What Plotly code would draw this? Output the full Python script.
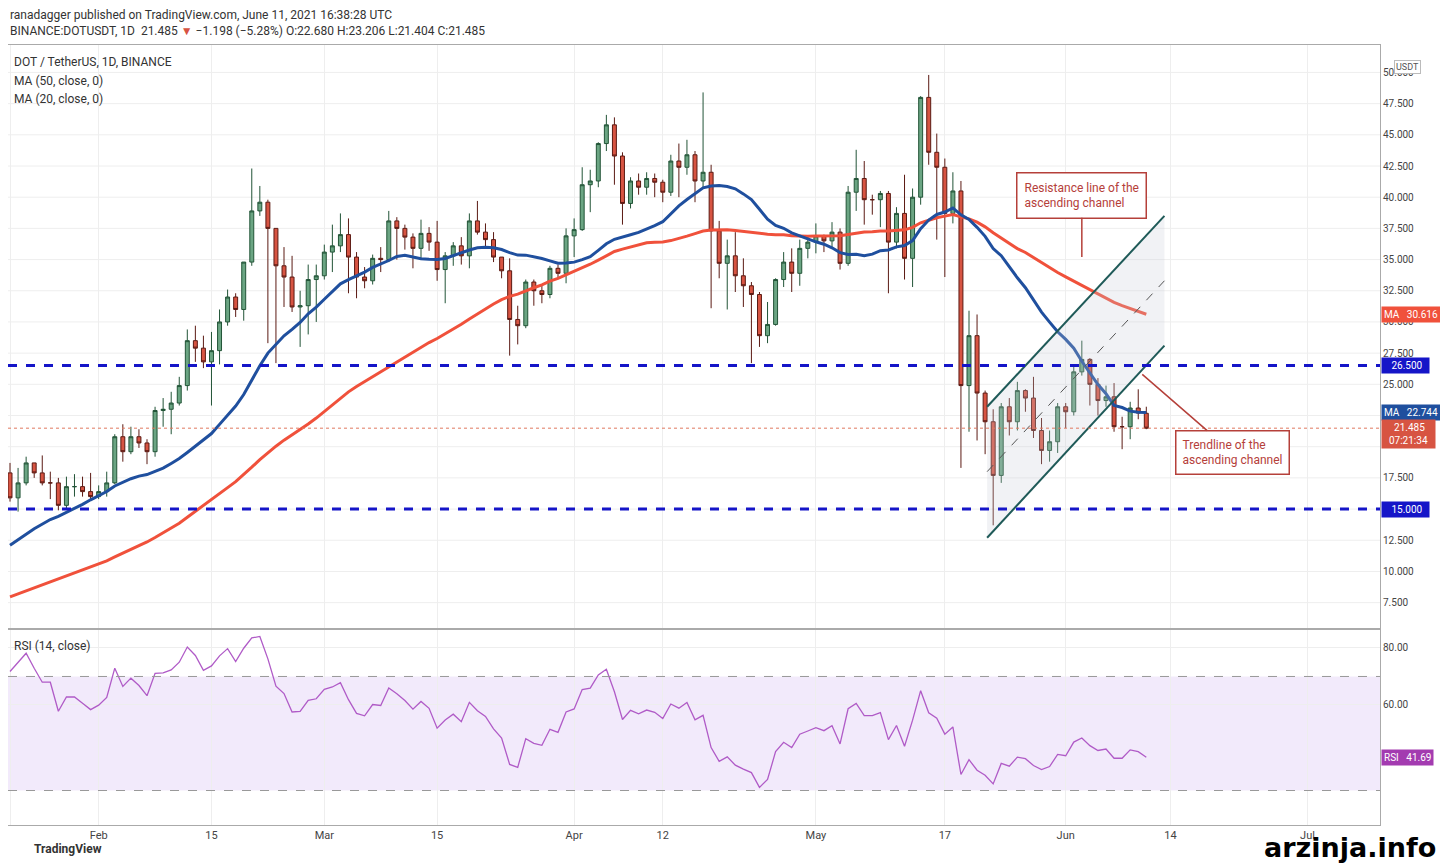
import plotly.graph_objects as go
import pandas as pd
import numpy as np

# ---------------- data ----------------
prior_closes = [5.0,5.0,5.1,5.0,4.8,4.8,4.6,4.5,4.6,4.8,4.9,4.9,5.0,5.2,5.1,5.0,5.0,5.1,4.8,4.7,
                4.6,4.5,4.5,4.8,5.0,5.4,6.2,6.8,7.4,
                8.6,9.0,9.3,9.1,9.4,10.0,10.1,10.6,10.3,9.9,8.7,9.5,10.8,11.8,13.5,15.3,16.2,17.0,17.8,17.9]

closes = [15.9,17.1,18.7,17.9,17.1,17.1,15.3,16.8,16.8,16.4,16.0,
 16.4,17.1,20.8,19.6,20.8,20.3,19.6,22.9,23.0,23.5,24.9,28.5,27.9,26.8,27.7,30.0,32.0,31.0,34.8,38.9,39.6,37.5,34.5,33.6,31.2,31.3,33.4,33.7,
 35.6,36.1,37.0,35.2,33.6,33.3,35.1,35.0,38.1,37.5,36.8,35.9,37.1,36.4,34.2,35.3,36.1,35.3,38.1,37.2,36.6,35.2,34.1,30.2,29.7,33.2,32.5,32.2,34.3,33.9,36.9,
 37.4,41.0,41.3,44.3,45.8,43.3,39.5,41.3,40.8,41.5,41.2,40.4,42.9,42.4,43.4,41.3,42.0,37.3,34.7,35.3,33.7,32.9,32.2,28.9,29.8,33.4,34.8,33.9,35.9,36.4,
 36.9,36.5,37.2,34.7,40.4,41.5,39.8,39.8,40.3,36.4,38.7,35.1,40.0,48.0,43.6,42.4,38.7,40.5,24.9,28.9,24.3,22.0,17.7,23.2,22.0,24.5,23.9,21.3,19.7,20.4,23.2,
 22.8,26.0,27.0,25.0,23.7,24.0,21.6,21.6,23.1,22.7,21.485]

highs = [18.7,18.3,19.2,18.7,19.3,18.0,17.5,17.6,17.8,17.6,17.9,
 16.9,18.0,21.0,21.8,21.6,21.4,20.6,23.2,23.9,24.4,25.6,29.4,29.7,28.9,29.2,31.0,32.6,32.3,34.8,42.3,40.9,39.8,37.5,36.0,35.3,32.5,34.6,34.6,
 36.2,37.8,38.7,38.3,35.6,34.4,35.4,36.0,38.9,38.4,37.8,37.1,38.2,37.6,38.1,35.6,36.4,36.8,38.7,39.7,37.9,37.2,35.2,35.1,31.3,33.4,33.4,32.9,34.5,34.6,37.5,
 38.3,42.4,42.2,44.4,46.6,46.4,43.6,41.6,41.9,42.0,41.9,41.4,43.4,44.3,44.6,43.7,48.4,42.6,38.1,36.6,37.2,35.1,33.2,32.4,31.6,33.5,35.6,35.9,36.6,36.9,
 37.9,37.0,38.0,37.5,40.9,43.8,42.9,40.2,40.5,40.5,39.2,41.8,40.7,48.1,49.8,45.1,43.1,42.0,41.3,30.9,30.6,24.5,23.0,23.5,23.9,25.2,24.6,25.6,22.3,21.3,23.5,
 23.5,26.4,28.5,27.1,25.5,24.9,25.1,22.4,23.6,24.6,23.206]

lows = [15.6,14.8,16.9,17.5,16.9,15.8,14.9,15.0,16.0,16.0,15.7,
 15.8,16.0,17.0,18.8,19.4,19.9,18.6,19.2,21.6,21.0,23.3,24.5,26.8,26.3,23.3,26.6,29.7,30.4,30.1,34.5,38.5,28.3,26.7,31.2,30.8,28.0,29.0,30.0,
 33.4,34.0,35.6,32.3,31.9,32.7,33.0,34.0,34.8,35.0,35.8,34.3,35.0,35.7,33.3,31.5,34.5,34.6,34.3,37.0,35.9,34.8,33.5,27.3,28.2,29.5,31.3,31.5,31.9,33.5,33.1,
 35.2,37.3,38.8,40.8,43.7,41.0,37.8,39.1,40.2,40.2,40.0,39.6,40.1,40.0,41.8,39.6,40.7,31.1,33.5,31.0,32.4,31.2,26.7,28.0,28.3,29.7,32.8,32.4,32.9,35.1,
 35.5,35.6,35.9,34.2,34.5,38.9,37.8,38.6,37.6,32.3,35.9,33.4,32.8,39.4,42.6,36.6,33.6,37.9,18.3,21.2,20.5,19.4,13.7,17.1,20.9,21.3,22.8,20.7,18.6,18.8,19.5,
 21.5,22.5,25.7,23.3,22.5,23.2,21.2,19.8,20.6,22.2,21.404]

first_open = 17.9
last_open = 22.680

dates = pd.date_range("2021-01-21", periods=len(closes), freq="D")
opens = [first_open] + closes[:-1]
opens[-1] = last_open

tick_dates = ["2021-01-21","2021-02-01","2021-02-15","2021-03-01","2021-03-15","2021-04-01",
              "2021-04-12","2021-05-01","2021-05-17","2021-06-01","2021-06-14","2021-07-01"]
tick_text = ["21","Feb","15","Mar","15","Apr","12","May","17","Jun","14","Jul"]
price_ticks = [7.5, 10.0, 12.5, 17.5, 25.0, 27.5, 30.0, 32.5, 35.0, 37.5, 40.0, 42.5, 45.0, 47.5, 50.0]
price_grid = [7.5, 10.0, 12.5, 15.0, 17.5, 20.0, 22.5, 25.0, 27.5, 30.0, 32.5, 35.0, 37.5, 40.0, 42.5, 45.0, 47.5, 50.0]

support_levels = [26.5, 15.0]
channel_dates = ["2021-05-22 06:00", "2021-06-13 06:00"]
channel_lower = [12.7, 28.1]
channel_upper = [23.2, 38.5]
channel_mid = [18.0, 33.3]

# ---------------- indicators ----------------
allc = pd.Series(prior_closes + closes)
n0 = len(prior_closes)
ma50 = allc.rolling(50, min_periods=1).mean().iloc[n0:].values
ma20 = allc.rolling(20, min_periods=1).mean().iloc[n0:].values
d = allc.diff()
gain = d.clip(lower=0).ewm(alpha=1/14, adjust=False).mean()
loss = (-d.clip(upper=0)).ewm(alpha=1/14, adjust=False).mean()
rsi = (100 - 100/(1+gain/loss)).iloc[n0:].values

# ---------------- figure ----------------
fig = go.Figure()
fig.add_trace(go.Candlestick(
    x=dates, open=opens, high=highs, low=lows, close=closes,
    increasing=dict(fillcolor="#6ba583", line=dict(color="#225437", width=1)),
    decreasing=dict(fillcolor="#d75442", line=dict(color="#5b1a13", width=1)),
    whiskerwidth=0, xaxis="x", yaxis="y", showlegend=False, hoverinfo="skip"))
fig.add_trace(go.Scatter(x=dates, y=ma50, mode="lines", line=dict(color="#f0513b", width=3),
                         xaxis="x", yaxis="y", showlegend=False))
fig.add_trace(go.Scatter(x=dates, y=ma20, mode="lines", line=dict(color="#1f4f9e", width=3),
                         xaxis="x", yaxis="y", showlegend=False))

fig.add_trace(go.Scatter(x=channel_dates + channel_dates[::-1], y=channel_upper + channel_lower[::-1],
                         fill="toself", fillcolor="rgba(200,205,215,0.25)", line=dict(width=0),
                         mode="lines", xaxis="x", yaxis="y", showlegend=False))
for ys, dash, w, col in [(channel_lower, "solid", 2, "#1f5a58"), (channel_upper, "solid", 2, "#1f5a58"),
                         (channel_mid, "dash", 1, "#555555")]:
    fig.add_trace(go.Scatter(x=channel_dates, y=ys, mode="lines", line=dict(color=col, width=w, dash=dash),
                             xaxis="x", yaxis="y", showlegend=False))

fig.add_trace(go.Scatter(x=dates, y=rsi, mode="lines", line=dict(color="#b05bc7", width=1.3),
                         xaxis="x2", yaxis="y2", showlegend=False))

xr = [pd.Timestamp("2021-01-21") - pd.Timedelta(hours=6), pd.Timestamp("2021-07-10")]
common_x = dict(range=xr, showgrid=True, gridcolor="#eeeeee", tickvals=tick_dates, zeroline=False,
                showline=True, linecolor="#aaaaaa", mirror=True)
fig.update_layout(
    width=1440, height=859, paper_bgcolor="white", plot_bgcolor="white",
    margin=dict(l=0, r=68, t=37, b=42),
    font=dict(family="Roboto, Arial", color="#333"),
    xaxis=dict(**common_x, domain=[0, 1], anchor="y", showticklabels=False),
    xaxis2=dict(**common_x, domain=[0, 1], anchor="y2", ticktext=tick_text, ticks="",
                tickfont=dict(size=11, color="#444")),
    yaxis=dict(domain=[0.2526, 1], range=[5.47, 52.2], side="right", tickvals=price_ticks,
               tickformat=".3f", tickfont=dict(size=10, color="#444"), showgrid=False,
               zeroline=False, showline=True, linecolor="#aaaaaa", mirror=True, anchor="x"),
    yaxis2=dict(domain=[0, 0.25], range=[17.9, 86.3], side="right", tickvals=[60, 80], tickformat=".2f",
                tickfont=dict(size=10, color="#444"), gridcolor="#eeeeee", zeroline=False,
                showline=True, linecolor="#aaaaaa", mirror=True, anchor="x2"),
    xaxis_rangeslider_visible=False,
)

shapes = []
for g in price_grid:
    shapes.append(dict(type="line", xref="x domain", yref="y", x0=0, x1=1, y0=g, y1=g,
                       line=dict(color="#eeeeee", width=1), layer="below"))
for lv in support_levels:
    shapes.append(dict(type="line", xref="x domain", yref="y", x0=0, x1=1, y0=lv, y1=lv,
                       line=dict(color="#1515c8", width=3, dash="dash")))
shapes.append(dict(type="line", xref="x domain", yref="y", x0=0, x1=1, y0=closes[-1], y1=closes[-1],
                   line=dict(color="#e0785f", width=1, dash="dot")))
shapes.append(dict(type="rect", xref="x domain", yref="y2", x0=0, x1=1, y0=30, y1=70,
                   fillcolor="rgba(150,80,220,0.12)", line=dict(width=0), layer="below"))
for lv in [30, 70]:
    shapes.append(dict(type="line", xref="x domain", yref="y2", x0=0, x1=1, y0=lv, y1=lv,
                       line=dict(color="#999999", width=1, dash="dash")))
fig.update_layout(shapes=shapes)

ann = []
def px(xp): return (xp - 8) / 1372
def py(yp): return (825 - yp) / 780
def txt(xp, yp, s, size=12, color="#333"):
    ann.append(dict(x=px(xp), y=py(yp), xref="paper", yref="paper", text=s, showarrow=False, xanchor="left",
                    yanchor="middle", font=dict(size=size, color=color)))

txt(8, 15, "ranadagger published on TradingView.com, June 11, 2021 16:38:28 UTC", 12)
txt(8, 31, "BINANCE:DOTUSDT, 1D  21.485 <span style='color:#d75442'>▼</span> −1.198 (−5.28%) O:22.680 H:23.206 L:21.404 C:21.485", 12)
txt(12, 62, "DOT / TetherUS, 1D, BINANCE", 12)
txt(12, 81, "MA (50, close, 0)", 12)
txt(12, 99, "MA (20, close, 0)", 12)
txt(12, 646, "RSI (14, close)", 12)
txt(32, 849, "<b>TradingView</b>", 12)
ann.append(dict(x=1, y=0, xref="paper", yref="paper", text="<b>arzinja.info</b>", showarrow=False,
                xanchor="right", yanchor="bottom", xshift=58, yshift=-40,
                font=dict(size=27, color="#000", family="Arial Black, DejaVu Sans")))

def rlabel(y, s, bg, yref="y", fc="white"):
    ann.append(dict(x=1, y=y, xref="paper", yref=yref, text=s, showarrow=False, xanchor="left",
                    yanchor="middle", xshift=1, bgcolor=bg, font=dict(size=10, color=fc), borderpad=2))
rlabel(26.5, "   26.500  ", "#1515c8")
rlabel(15.0, "   15.000  ", "#1515c8")
rlabel(float(ma50[-1]), "MA   %.3f" % ma50[-1], "#f0513b")
rlabel(float(ma20[-1]), "MA   %.3f" % ma20[-1], "#1f4f9e")
rlabel(closes[-1] - 0.5, "   21.485  <br>  07:21:34  ", "#d75442")
rlabel(float(rsi[-1]), "RSI   %.2f" % rsi[-1], "#a33bb0", yref="y2")
ann.append(dict(x=1, y=py(60), xref="paper", yref="paper", text="USDT", showarrow=False, xanchor="left",
                xshift=14, font=dict(size=9, color="#555"), bordercolor="#bbbbbb", borderwidth=1, borderpad=1,
                bgcolor="white"))

ann.append(dict(x="2021-06-03", y=35.2, xref="x", yref="y", ax=0, ay=-62, text="Resistance line of the<br>ascending channel",
                showarrow=True, arrowhead=0, arrowcolor="#b5403a", arrowwidth=1.5, align="left",
                font=dict(size=12, color="#b5403a"), bordercolor="#b5403a", borderwidth=1.5, borderpad=7, bgcolor="white"))
ann.append(dict(x="2021-06-10 12:00", y=25.8, xref="x", yref="y", ax=90, ay=78, text="Trendline of the<br>ascending channel",
                showarrow=True, arrowhead=0, arrowcolor="#b5403a", arrowwidth=1.5, align="left",
                font=dict(size=12, color="#b5403a"), bordercolor="#b5403a", borderwidth=1.5, borderpad=6, bgcolor="white"))
fig.update_layout(annotations=ann)

fig.write_html("out.html")
